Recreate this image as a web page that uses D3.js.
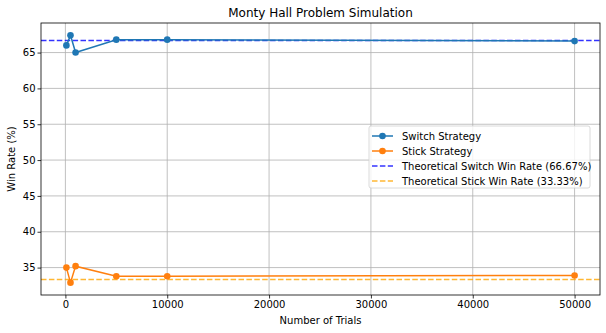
<!DOCTYPE html>
<html>
<head>
<meta charset="utf-8">
<script src="https://cdn.jsdelivr.net/npm/d3@7"></script>
<style>
  body { margin: 0; background: #fff; }
  svg { display: block; font-family: "DejaVu Sans", sans-serif; }
</style>
</head>
<body>
<svg id="chart" width="606" height="333"></svg>
<script>
// Simulation results: win rate (%) per number of trials
const trials = [100, 500, 1000, 5000, 10000, 50000];
const switchRates = [66.0, 67.4, 65.0, 66.8, 66.8, 66.6];
const stickRates = [35.0, 32.9, 35.2, 33.8, 33.8, 33.9];
const theorySwitch = 66.67;
const theoryStick = 33.33;
const xTicks = [0, 10000, 20000, 30000, 40000, 50000];
const yTicks = [35, 40, 45, 50, 55, 60, 65];
const legendLabels = [
  "Switch Strategy",
  "Stick Strategy",
  "Theoretical Switch Win Rate (66.67%)",
  "Theoretical Stick Win Rate (33.33%)"
];

const svg = d3.select("#chart");
const m = { left: 41, right: 6, top: 23, bottom: 38 };
const W = 606, H = 333;

const xMin = d3.min(trials), xMax = d3.max(trials);
const xPad = (xMax - xMin) * 0.05;
const allY = switchRates.concat(stickRates);
const yMin = d3.min(allY), yMax = d3.max(allY);
const yPad = (yMax - yMin) * 0.05;

const x = d3.scaleLinear().domain([xMin - xPad, xMax + xPad]).range([m.left, W - m.right]);
const y = d3.scaleLinear().domain([yMin - yPad, yMax + yPad]).range([H - m.bottom, m.top]);

// grid
const grid = svg.append("g");
grid.selectAll(".gx").data(xTicks).join("line")
  .attr("x1", d => x(d)).attr("x2", d => x(d))
  .attr("y1", m.top).attr("y2", H - m.bottom)
  .attr("stroke", "#b0b0b0").attr("stroke-width", 0.8);
grid.selectAll(".gy").data(yTicks).join("line")
  .attr("y1", d => y(d)).attr("y2", d => y(d))
  .attr("x1", m.left).attr("x2", W - m.right)
  .attr("stroke", "#b0b0b0").attr("stroke-width", 0.8);

// axes
const xAxis = svg.append("g").attr("transform", `translate(0,${H - m.bottom})`)
  .call(d3.axisBottom(x).tickValues(xTicks).tickFormat(d3.format("d")).tickSize(3.5).tickPadding(2));
const yAxis = svg.append("g").attr("transform", `translate(${m.left},0)`)
  .call(d3.axisLeft(y).tickValues(yTicks).tickSize(3.5).tickPadding(2));
[xAxis, yAxis].forEach(a => {
  a.select(".domain").remove();
  a.selectAll("text").attr("font-size", 10).attr("fill", "#000").attr("font-family", "DejaVu Sans");
  a.selectAll("line").attr("stroke", "#000").attr("stroke-width", 0.8);
});

// theoretical lines
svg.append("line")
  .attr("x1", m.left).attr("x2", W - m.right)
  .attr("y1", y(theorySwitch)).attr("y2", y(theorySwitch))
  .attr("stroke", "#0000ff").attr("stroke-opacity", 0.8).attr("stroke-width", 1.5)
  .attr("stroke-dasharray", "5.5,2.4");
svg.append("line")
  .attr("x1", m.left).attr("x2", W - m.right)
  .attr("y1", y(theoryStick)).attr("y2", y(theoryStick))
  .attr("stroke", "#ffa500").attr("stroke-opacity", 0.8).attr("stroke-width", 1.5)
  .attr("stroke-dasharray", "5.5,2.4");

// series
const line = d3.line().x(d => x(d[0])).y(d => y(d[1]));
function series(vals, color) {
  const pts = trials.map((t, i) => [t, vals[i]]);
  svg.append("path").datum(pts).attr("d", line)
    .attr("fill", "none").attr("stroke", color).attr("stroke-width", 1.5);
  svg.append("g").selectAll("circle").data(pts).join("circle")
    .attr("cx", d => x(d[0])).attr("cy", d => y(d[1])).attr("r", 3.3)
    .attr("fill", color);
}
series(switchRates, "#1f77b4");
series(stickRates, "#ff7f0e");

// frame
svg.append("rect")
  .attr("x", m.left).attr("y", m.top)
  .attr("width", W - m.left - m.right).attr("height", H - m.top - m.bottom)
  .attr("fill", "none").attr("stroke", "#000").attr("stroke-width", 0.8);

// title and axis labels
svg.append("text").attr("x", (m.left + W - m.right) / 2).attr("y", 17)
  .attr("text-anchor", "middle").attr("font-size", 12).text("Monty Hall Problem Simulation");
svg.append("text").attr("x", (m.left + W - m.right) / 2).attr("y", 324)
  .attr("text-anchor", "middle").attr("font-size", 10).text("Number of Trials");
svg.append("text").attr("transform", `translate(15,${(m.top + H - m.bottom) / 2}) rotate(-90)`)
  .attr("text-anchor", "middle").attr("font-size", 10).text("Win Rate (%)");

// legend
const lg = svg.append("g").attr("transform", "translate(369,126)");
lg.append("rect").attr("x", 0).attr("y", 0).attr("width", 221).attr("height", 62)
  .attr("rx", 2).attr("fill", "#fff").attr("fill-opacity", 0.8)
  .attr("stroke", "#d0d0d0").attr("stroke-width", 0.8);
const styles = [
  { color: "#1f77b4", dash: null, marker: true, op: 1 },
  { color: "#ff7f0e", dash: null, marker: true, op: 1 },
  { color: "#0000ff", dash: "5.5,2.4", marker: false, op: 0.8 },
  { color: "#ffa500", dash: "5.5,2.4", marker: false, op: 0.8 }
];
legendLabels.forEach((lab, i) => {
  const yy = 10 + i * 15;
  const s = styles[i];
  lg.append("line").attr("x1", 3).attr("x2", 24).attr("y1", yy).attr("y2", yy)
    .attr("stroke", s.color).attr("stroke-opacity", s.op).attr("stroke-width", 1.5)
    .attr("stroke-dasharray", s.dash);
  if (s.marker) lg.append("circle").attr("cx", 13.5).attr("cy", yy).attr("r", 3.3).attr("fill", s.color);
  lg.append("text").attr("x", 33).attr("y", yy + 3.5).attr("font-size", 10).text(lab);
});
</script>
</body>
</html>
